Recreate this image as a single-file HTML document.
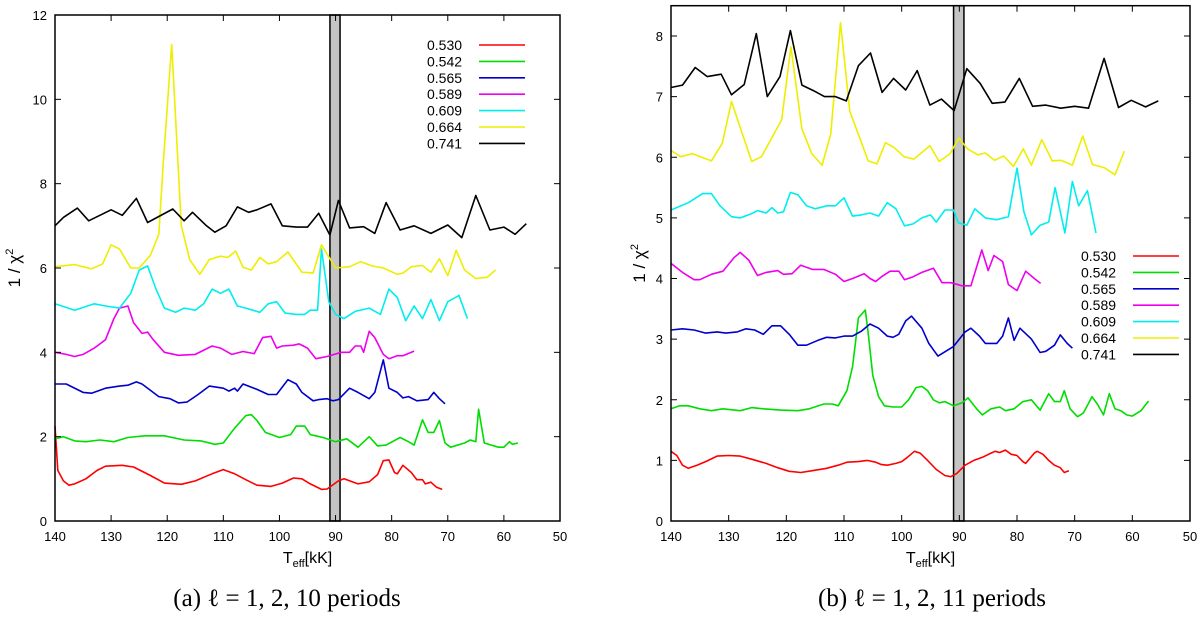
<!DOCTYPE html>
<html><head><meta charset="utf-8"><style>
body{margin:0;background:#fff;width:1200px;height:616px;overflow:hidden}
svg text{font-family:"Liberation Sans",sans-serif}
</style></head><body>
<svg id="svg" width="1200" height="616" xmlns="http://www.w3.org/2000/svg">
<g id="pa"></g>
<g id="pb"></g>
<text x="287" y="606" font-size="25" text-anchor="middle" style="font-family:'Liberation Serif',serif">(a) ℓ = 1, 2, 10 periods</text>
<text x="932" y="606" font-size="25" text-anchor="middle" style="font-family:'Liberation Serif',serif">(b) ℓ = 1, 2, 11 periods</text>
</svg>
<script>
const labels=["0.530","0.542","0.565","0.589","0.609","0.664","0.741"];
const colors=["#f00","#0d0","#00c","#e0e","#0ee","#ee0","#000"];
// Panel A data (T [kK], 1/chi^2)
const aT0=[140,139.5,138.5,137.5,136.5,134.5,132.5,131,128,126,123,120.5,117.5,115,112,110,108,106,104,101.5,99.5,97.5,96,94.5,92.5,91.5,89.5,88.5,86,84,82.5,81.5,80.5,79.5,79,78,76.5,75.5,74.5,74,73,72,71];
const aV0=[2.25,1.2,0.95,0.85,0.88,1.0,1.2,1.3,1.32,1.28,1.08,0.9,0.87,0.95,1.12,1.22,1.12,0.98,0.85,0.82,0.9,1.02,1.0,0.88,0.75,0.76,0.95,1.0,0.88,0.93,1.1,1.43,1.45,1.15,1.12,1.32,1.15,0.98,0.98,0.88,0.92,0.8,0.75];
const aT1=[140,138.5,136.5,134.5,132,129.5,127,124,120.5,117,114,111.5,110,108,106,105,104,102.5,100,98,97,95.5,94.5,93.5,92,90,88,86,84,82.5,81,78.5,77,76,74.5,73.5,72.5,71.5,70.5,69.5,67,66,65,64.5,63.5,61,60,59,58.5,57.5];
const aV1=[1.95,2.0,1.9,1.88,1.92,1.88,1.98,2.02,2.02,1.92,1.9,1.82,1.85,2.2,2.5,2.52,2.38,2.1,1.98,2.05,2.25,2.25,2.05,2.02,1.97,1.88,1.95,1.75,2.0,1.78,1.8,1.98,1.88,1.8,2.4,2.1,2.1,2.38,1.85,1.75,1.85,1.92,1.88,2.65,1.85,1.75,1.75,1.88,1.82,1.85];
const aT2=[140,138,135,133.5,131,128.5,127,125.5,124.5,121.5,119.5,118,116.5,114.5,112.5,110,109,108,107.5,106.5,104,102,100.5,98.5,97,96,94,93,91.5,90.5,89.5,87.5,86,84,83,81.5,80.5,79,78,77,75.5,73.5,72.5,71.5,70.5];
const aV2=[3.25,3.25,3.05,3.03,3.15,3.2,3.22,3.3,3.25,2.95,2.9,2.8,2.82,3.0,3.2,3.15,3.08,3.15,3.08,3.25,3.12,3.0,3.0,3.35,3.25,3.05,2.85,2.88,2.9,2.85,2.88,3.15,3.05,2.9,3.05,3.82,3.15,3.05,2.92,2.95,2.85,2.88,3.05,2.9,2.78];
const aT3=[140,138,136.5,135,133,131,129.5,128.5,127,126,124.5,123.5,122.5,120.5,118,115,112,110.5,108.5,106.5,104.5,103,101.5,100.5,99.5,97.5,96.5,95,93.5,91.5,89,87.5,86.5,85.5,85,84,83,81.5,80.5,79,78,76];
const aV3=[4.0,3.95,3.9,3.95,4.1,4.3,4.8,5.05,5.1,4.7,4.45,4.48,4.3,4.0,3.93,3.95,4.15,4.1,3.95,4.02,3.97,4.35,4.38,4.1,4.15,4.17,4.2,4.1,3.85,3.9,4.0,4.0,4.15,4.15,4.0,4.5,4.35,3.95,3.85,3.92,3.92,4.03];
const aT4=[140,136.5,133,131,128.5,126.5,125,123.5,122,120.5,118.5,117,115,113.5,112,110.5,109,107.5,106,103.5,102,100.5,99,97,95.5,94.5,93.2,92.5,91.2,90,88.5,86.5,84,82,80.5,79,77.5,76,74.5,73,71.5,70,68,66.5];
const aV4=[5.15,5.0,5.15,5.1,5.05,5.4,5.95,6.05,5.5,5.05,4.95,5.05,5.0,5.15,5.5,5.4,5.5,5.1,5.05,4.95,5.15,5.2,4.93,4.9,4.9,5.0,5.0,6.45,5.2,4.9,4.8,4.97,5.05,4.9,5.5,5.3,4.75,5.1,4.8,5.25,4.75,5.2,5.35,4.8];
const aT5=[140,136.5,133.5,131.5,130,128.5,126.5,125,123,121.5,120.7,119.2,117.5,116,114.2,112.5,110.5,109.2,107.8,106.5,105,103.5,102,100.5,98.5,96,94,92.5,91,90,87.5,85.5,83.5,81.5,79,78,76.5,74.5,73,71.5,70,68.5,67,65,63,61.5];
const aV5=[6.03,6.08,5.98,6.1,6.55,6.45,6.0,6.0,6.3,6.8,8.5,11.3,7.0,6.2,5.85,6.2,6.28,6.25,6.4,6.02,5.95,6.25,6.1,6.15,6.38,5.9,5.88,6.55,6.22,6.0,6.03,6.15,6.05,6.0,5.85,5.88,6.03,6.06,5.9,6.22,5.82,6.42,5.95,5.75,5.78,5.95];
const aT6=[140,138.5,136,134,130,128,125.5,123.5,119,117,115.5,113,111.5,109.5,107.5,105.5,104,101.5,99.5,97,95,93,91,89.5,87.5,85,83,81,78.5,76,73,70,67.5,65,62.5,60,58,56];
const aV6=[7.0,7.2,7.42,7.12,7.38,7.25,7.65,7.08,7.4,7.12,7.32,7.0,6.85,7.0,7.45,7.32,7.38,7.52,7.0,6.97,6.97,7.3,6.78,7.6,6.95,6.98,6.82,7.55,6.9,7.0,6.82,7.02,6.72,7.72,6.9,6.97,6.8,7.05];
// Panel B data
const bT0=[140,139,138,137,135.5,134,132,130,128,126,123.5,121.5,119.5,117.5,115.5,113,111,109.5,107.5,106,104.5,103.5,102.5,101,100,99,97.8,96.8,95.5,94,92.5,91.5,90.5,89,87.5,86,84.5,83.8,83,82,81,80,79,78.5,77,76.5,75.5,74.5,73.5,72.5,71.8,71];
const bV0=[1.15,1.08,0.92,0.87,0.92,0.98,1.07,1.08,1.07,1.02,0.95,0.88,0.82,0.8,0.83,0.87,0.92,0.97,0.98,1.0,0.97,0.93,0.92,0.95,0.98,1.05,1.15,1.12,1.0,0.85,0.75,0.73,0.78,0.92,1.0,1.05,1.12,1.15,1.13,1.17,1.1,1.08,0.98,0.95,1.12,1.15,1.1,1.0,0.92,0.88,0.8,0.83];
const bT1=[140,138.5,137,135,133,131,129,128,126,124,121,118,116,113.5,112,111,109.5,108.5,107.5,106.3,105.8,105,104,103,101.5,100,98.8,97.5,96.5,95.5,94.5,93.5,92.5,91,89.5,88.5,87,86,84.5,83,82,80.5,79,77.5,76,74.5,73.5,72.5,71.8,70.8,69.5,68.5,67,66,65,64,63,62,61,60,58.5,57.2];
const bV1=[1.85,1.9,1.9,1.85,1.82,1.85,1.83,1.82,1.87,1.85,1.83,1.82,1.85,1.93,1.93,1.9,2.15,2.55,3.35,3.48,3.1,2.4,2.05,1.9,1.88,1.88,2.0,2.2,2.22,2.15,2.0,1.95,1.97,1.9,1.95,2.03,1.85,1.75,1.85,1.88,1.82,1.85,1.97,2.0,1.83,2.1,1.97,1.97,2.15,1.85,1.72,1.78,2.05,1.92,1.75,2.1,1.85,1.82,1.75,1.73,1.82,1.98];
const bT2=[140,138,136,134,132,130.5,128.5,127,125.5,124,122.5,121,119.5,118,116.5,114.5,113,111.5,110,108.5,107,105.5,104,102.5,101.5,100.5,99.3,98.3,96.5,95.3,94.3,93.7,91,89,88,86.5,85.5,83.5,82.5,81.5,80.5,79.5,77.5,76,75,73.5,72.5,71.3,70.4];
const bV2=[3.15,3.17,3.15,3.1,3.12,3.1,3.12,3.17,3.15,3.08,3.22,3.22,3.08,2.9,2.9,2.98,3.03,3.02,3.05,3.05,3.13,3.25,3.18,3.05,3.03,3.08,3.3,3.38,3.18,2.93,2.8,2.72,2.88,3.12,3.18,3.05,2.93,2.93,3.05,3.35,2.98,3.18,3.0,2.78,2.8,2.9,3.07,2.93,2.85];
const bT3=[140,138,136,135,133,131,129,128,126.5,125,123.5,121.5,120.5,119,117.5,115.5,113.5,111.5,110,108.5,106.5,105.5,104.5,103.5,102,100.5,99.5,98,96.5,94.5,93,91.5,89.5,88,86.1,85,84,82.5,81.5,80,78.5,77,75.9];
const bV3=[4.25,4.1,3.98,3.98,4.07,4.12,4.35,4.43,4.3,4.05,4.1,4.13,4.07,4.08,4.22,4.15,4.15,4.07,3.95,4.0,4.08,4.0,3.95,4.03,4.12,4.12,3.98,4.03,4.1,4.17,3.93,3.93,3.88,3.88,4.47,4.13,4.38,4.28,3.9,3.8,4.12,4.0,3.92];
const bT4=[140,137,134.5,133,131.5,129.5,128,126,125,123.5,122.5,121.5,120.5,119.3,118,116.5,115,113,111.5,110,108.5,107,105.5,104,102.5,101,99.5,98,96.5,95,94,92.5,91,90.2,88.7,87.3,85.5,83.5,81.5,80,78.8,77.5,76,74.5,73.4,71.7,70.4,69.3,67.8,66.3];
const bV4=[5.13,5.25,5.4,5.4,5.2,5.02,5.0,5.07,5.12,5.08,5.17,5.08,5.1,5.42,5.38,5.2,5.15,5.2,5.2,5.33,5.03,5.05,5.08,5.03,5.25,5.15,4.87,4.9,5.0,5.05,4.93,5.13,5.13,4.92,4.88,5.15,5.0,4.97,5.02,5.82,5.1,4.72,4.88,4.93,5.5,4.75,5.6,5.2,5.45,4.75];
const bT5=[140,138.3,136.3,133,131.1,129.5,127.6,126,124.3,120.8,119.2,117.3,115.6,113.8,112.3,110.6,109,105.8,104.3,102.8,101.3,99.6,97.9,95.1,93.5,91.6,90.1,88.6,86.8,85.5,83.9,82.3,80.6,78.9,77.5,75.7,73.9,72.4,70.4,68.6,66.9,64.9,63,61.4];
const bV5=[6.11,6.01,6.06,5.94,6.23,6.92,6.38,5.93,6.01,6.62,7.82,6.47,6.06,5.87,6.38,8.22,6.76,5.94,5.89,6.24,6.16,6.01,5.97,6.19,5.93,6.06,6.32,6.14,6.04,6.07,5.95,6.02,5.85,6.14,5.87,6.29,5.94,5.95,5.87,6.35,5.88,5.83,5.71,6.1];
const bT6=[140,138,135.8,133.7,131.3,129.5,127.3,125.2,123.3,121.1,119.3,117.3,115.3,113.4,111.5,109.6,107.5,105.4,103.4,101.4,99.3,97.3,95.1,93.1,90.9,88.7,86.4,84.3,82.1,79.6,77.3,75,72.4,70,67.6,64.9,62.4,60.2,57.7,55.5];
const bV6=[7.15,7.19,7.48,7.33,7.37,7.03,7.2,8.04,7.0,7.33,8.09,7.19,7.1,7.0,7.0,6.93,7.51,7.72,7.07,7.3,7.11,7.43,6.86,6.96,6.77,7.46,7.22,6.89,6.91,7.3,6.84,6.86,6.81,6.84,6.81,7.63,6.82,6.94,6.83,6.93];
const xTicks=[140,130,120,110,100,90,80,70,60,50];
const aYTicks=[0,2,4,6,8,10,12];
const bYTicks=[0,1,2,3,4,5,6,7,8];
const band=[91.0,89.2];

const NS="http://www.w3.org/2000/svg";
function mk(p,tag,attrs){const e=document.createElementNS(NS,tag);for(const k in attrs)e.setAttribute(k,attrs[k]);p.appendChild(e);return e;}

function panel(g,cfg){
  const X=v=>cfg.x0+(140-v)/90*(cfg.x1-cfg.x0);
  const Y=v=>cfg.yb-(v/cfg.ymax)*(cfg.yb-cfg.yt);
  const b=mk(g,'rect',{x:X(band[0]),y:cfg.yt,width:X(band[1])-X(band[0]),height:cfg.yb-cfg.yt,fill:'#c4c4c4',stroke:'#000','stroke-width':1.5});
  
  
  cfg.series.forEach((s,i)=>{
    const d=s.T.map((t,j)=>(j?'L':'M')+X(t).toFixed(1)+' '+Y(s.V[j]).toFixed(1)).join(' ');
    const p=mk(g,'path',{d:d,fill:'none',stroke:colors[i],'stroke-width':1.6,'stroke-linejoin':'round'});
    
    
  });
  const f=mk(g,'rect',{x:cfg.x0,y:cfg.yt,width:cfg.x1-cfg.x0,height:cfg.yb-cfg.yt,fill:'none',stroke:'#000','stroke-width':1.5});
  
  
  xTicks.forEach(t=>{
    const x=X(t);
    mk(g,'line',{x1:x,x2:x,y1:cfg.yb,y2:cfg.yb-6,stroke:'#000'});
    mk(g,'line',{x1:x,x2:x,y1:cfg.yt,y2:cfg.yt+6,stroke:'#000'});
    const tx=mk(g,'text',{x:x,y:cfg.yb+20,'font-size':13,'text-anchor':'middle'});
    tx.textContent=t;
    
    
  });
  cfg.yticks.forEach(t=>{
    const y=Y(t);
    mk(g,'line',{x1:cfg.x0,x2:cfg.x0+6,y1:y,y2:y,stroke:'#000'});
    mk(g,'line',{x1:cfg.x1,x2:cfg.x1-6,y1:y,y2:y,stroke:'#000'});
    const tx=mk(g,'text',{x:cfg.x0-8,y:y+5,'font-size':13,'text-anchor':'end'});
    tx.textContent=t;
    
    
  });
  const xl=mk(g,'text',{x:(cfg.x0+cfg.x1)/2,y:cfg.yb+42,'font-size':16,'text-anchor':'middle'});
  xl.innerHTML='T<tspan font-size="11" dy="4">eff</tspan><tspan dy="-4">[kK]</tspan>';
  
  
  const yl=mk(g,'text',{x:0,y:0,'font-size':17,'text-anchor':'middle',transform:`translate(${cfg.ylx},${(cfg.yt+cfg.yb)/2}) rotate(-90)`});
  yl.innerHTML='1 / χ<tspan font-size="11" dy="-7">2</tspan>';
  
  
  labels.forEach((l,i)=>{
    const y=cfg.ly+i*16.4;
    const t=mk(g,'text',{x:cfg.lx,y:y+5,'font-size':14});
    t.textContent=l;
    
    
    const ln=mk(g,'line',{x1:cfg.lx+52,x2:cfg.lx+98,y1:y,y2:y,stroke:colors[i],'stroke-width':1.6});
    
    
  });
}
panel(document.getElementById('pa'),{x0:55,x1:560,yt:15,yb:521,ymax:12,yticks:aYTicks,ylx:20,lx:427,ly:45,
  series:[{T:aT0,V:aV0},{T:aT1,V:aV1},{T:aT2,V:aV2},{T:aT3,V:aV3},{T:aT4,V:aV4},{T:aT5,V:aV5},{T:aT6,V:aV6}]});
panel(document.getElementById('pb'),{x0:671,x1:1190,yt:5.7,yb:521,ymax:8.5,yticks:bYTicks,ylx:645,lx:1081,ly:256,
  series:[{T:bT0,V:bV0},{T:bT1,V:bV1},{T:bT2,V:bV2},{T:bT3,V:bV3},{T:bT4,V:bV4},{T:bT5,V:bV5},{T:bT6,V:bV6}]});
</script>
</body></html>
